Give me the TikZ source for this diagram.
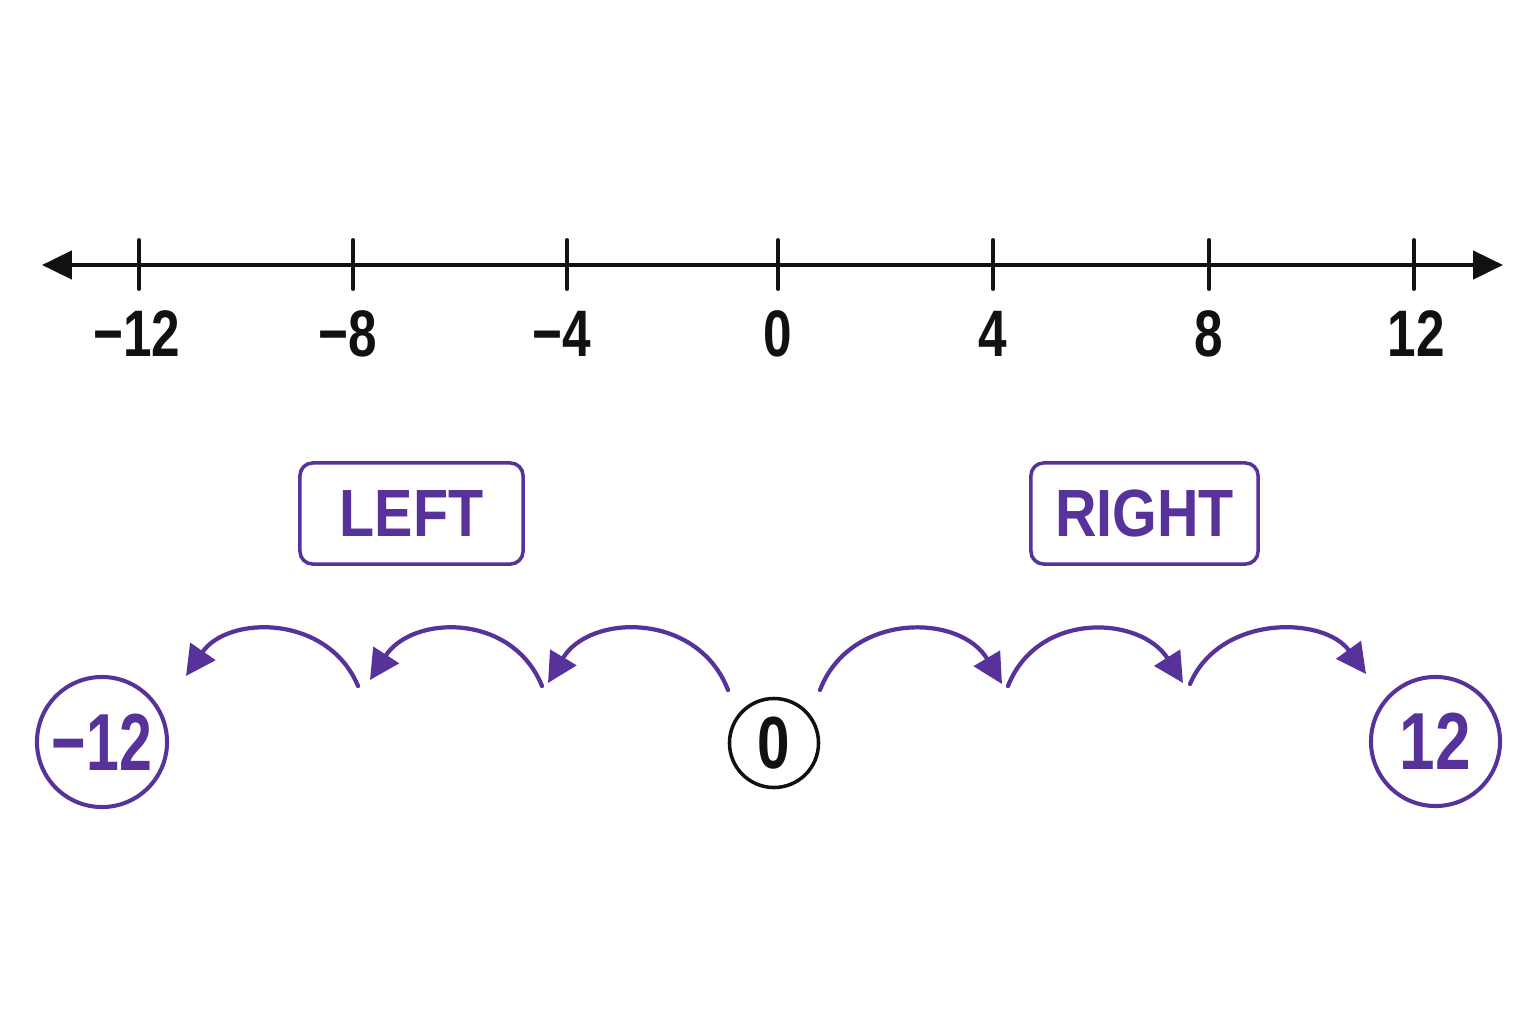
\documentclass[tikz,border=0pt]{standalone}
\usepackage{fontspec}
\setmainfont{Liberation Sans}
\newfontfamily\numfont[FakeStretch=0.78]{Liberation Sans}
\newfontfamily\circfont[FakeStretch=0.79]{Liberation Sans}
\newfontfamily\narrowcircfont[FakeStretch=0.73]{Liberation Sans}
\newfontfamily\boxfont[FakeStretch=0.86]{Liberation Sans}
\usetikzlibrary{arrows.meta}
\definecolor{jump}{RGB}{86,50,154}
\definecolor{ink}{RGB}{17,17,17}
\tikzset{
  axisline/.style={line width=1.15pt, draw=ink, {Triangle[length=8.5pt,width=8pt]}-{Triangle[length=8.5pt,width=8pt]}},
  tickmark/.style={line width=1.1pt, draw=ink, line cap=round},
  axislabel/.style={font=\numfont\bfseries\fontsize{18.7}{20}\selectfont, text=ink, inner sep=0pt},
  dirbox/.style={draw=jump, line width=1pt, rounded corners=3.6pt, minimum height=1.01cm,
                 text=jump, font=\boxfont\bfseries\fontsize{19}{20}\selectfont, inner sep=0pt},
  endcircle/.style={circle, draw=jump, line width=1.15pt, text=jump, inner sep=0pt,
                    font=\circfont\bfseries\fontsize{23}{24}\selectfont},
  zerocircle/.style={circle, draw=ink, line width=1pt, text=ink, inner sep=0pt,
                    font=\circfont\bfseries\fontsize{21}{22}\selectfont, minimum size=0.89cm},
  hop/.style={draw=jump, line width=1.2pt, line cap=round, -{Triangle[length=8.5pt,width=8.5pt]}}
}
\begin{document}
\begin{tikzpicture}[x=0.01cm, y=-0.01cm]
\path[use as bounding box, fill=white] (0,0) rectangle (1536,1024);

% number line
\coordinate (axL) at (42,265);
\coordinate (axR) at (1503,265);
\draw[axisline] (axL) -- (axR);
\foreach \x/\lx/\t [count=\i] in {139/137/−12, 353/348/−8, 567/562/−4, 778/778/0, 993/993/4, 1209/1209/8, 1414/1416/12}{
  \draw[tickmark] (\x,240) -- (\x,289);
  \node[axislabel] (lab\i) at (\lx,333.5) {\t};
}

% direction boxes
\node[dirbox, minimum width=2.23cm] (left) at (411.5,513.5) {LEFT};
\node[dirbox, minimum width=2.27cm] (right) at (1144.5,513.5) {RIGHT};

% circles
\node[endcircle, minimum size=1.30cm, font=\narrowcircfont\bfseries\fontsize{23}{24}\selectfont] (m12) at (102,742) {−12};
\node[endcircle, minimum size=1.29cm] (p12) at (1435.5,741.5) {12};
\node[zerocircle] (zero) at (774,743) {0};

% hop arcs: left
\coordinate (s1) at (728,690); \coordinate (e1) at (548,683);
\coordinate (s2) at (542,686); \coordinate (e2) at (370,680);
\coordinate (s3) at (358,686); \coordinate (e3) at (186,676);
\draw[hop] (s1) .. controls +(-30,-78) and +(42,-70) .. (e1);
\draw[hop] (s2) .. controls +(-30,-74) and +(42,-65) .. (e2);
\draw[hop] (s3) .. controls +(-30,-72) and +(42,-61) .. (e3);

% hop arcs: right
\coordinate (s4) at (820,690); \coordinate (e4) at (1002,684);
\coordinate (s5) at (1008,686); \coordinate (e5) at (1183,683);
\coordinate (s6) at (1190,684); \coordinate (e6) at (1366,674);
\draw[hop] (s4) .. controls +(30,-78) and +(-42,-71) .. (e4);
\draw[hop] (s5) .. controls +(30,-76) and +(-42,-67) .. (e5);
\draw[hop] (s6) .. controls +(30,-70) and +(-42,-58) .. (e6);
\end{tikzpicture}
\end{document}
